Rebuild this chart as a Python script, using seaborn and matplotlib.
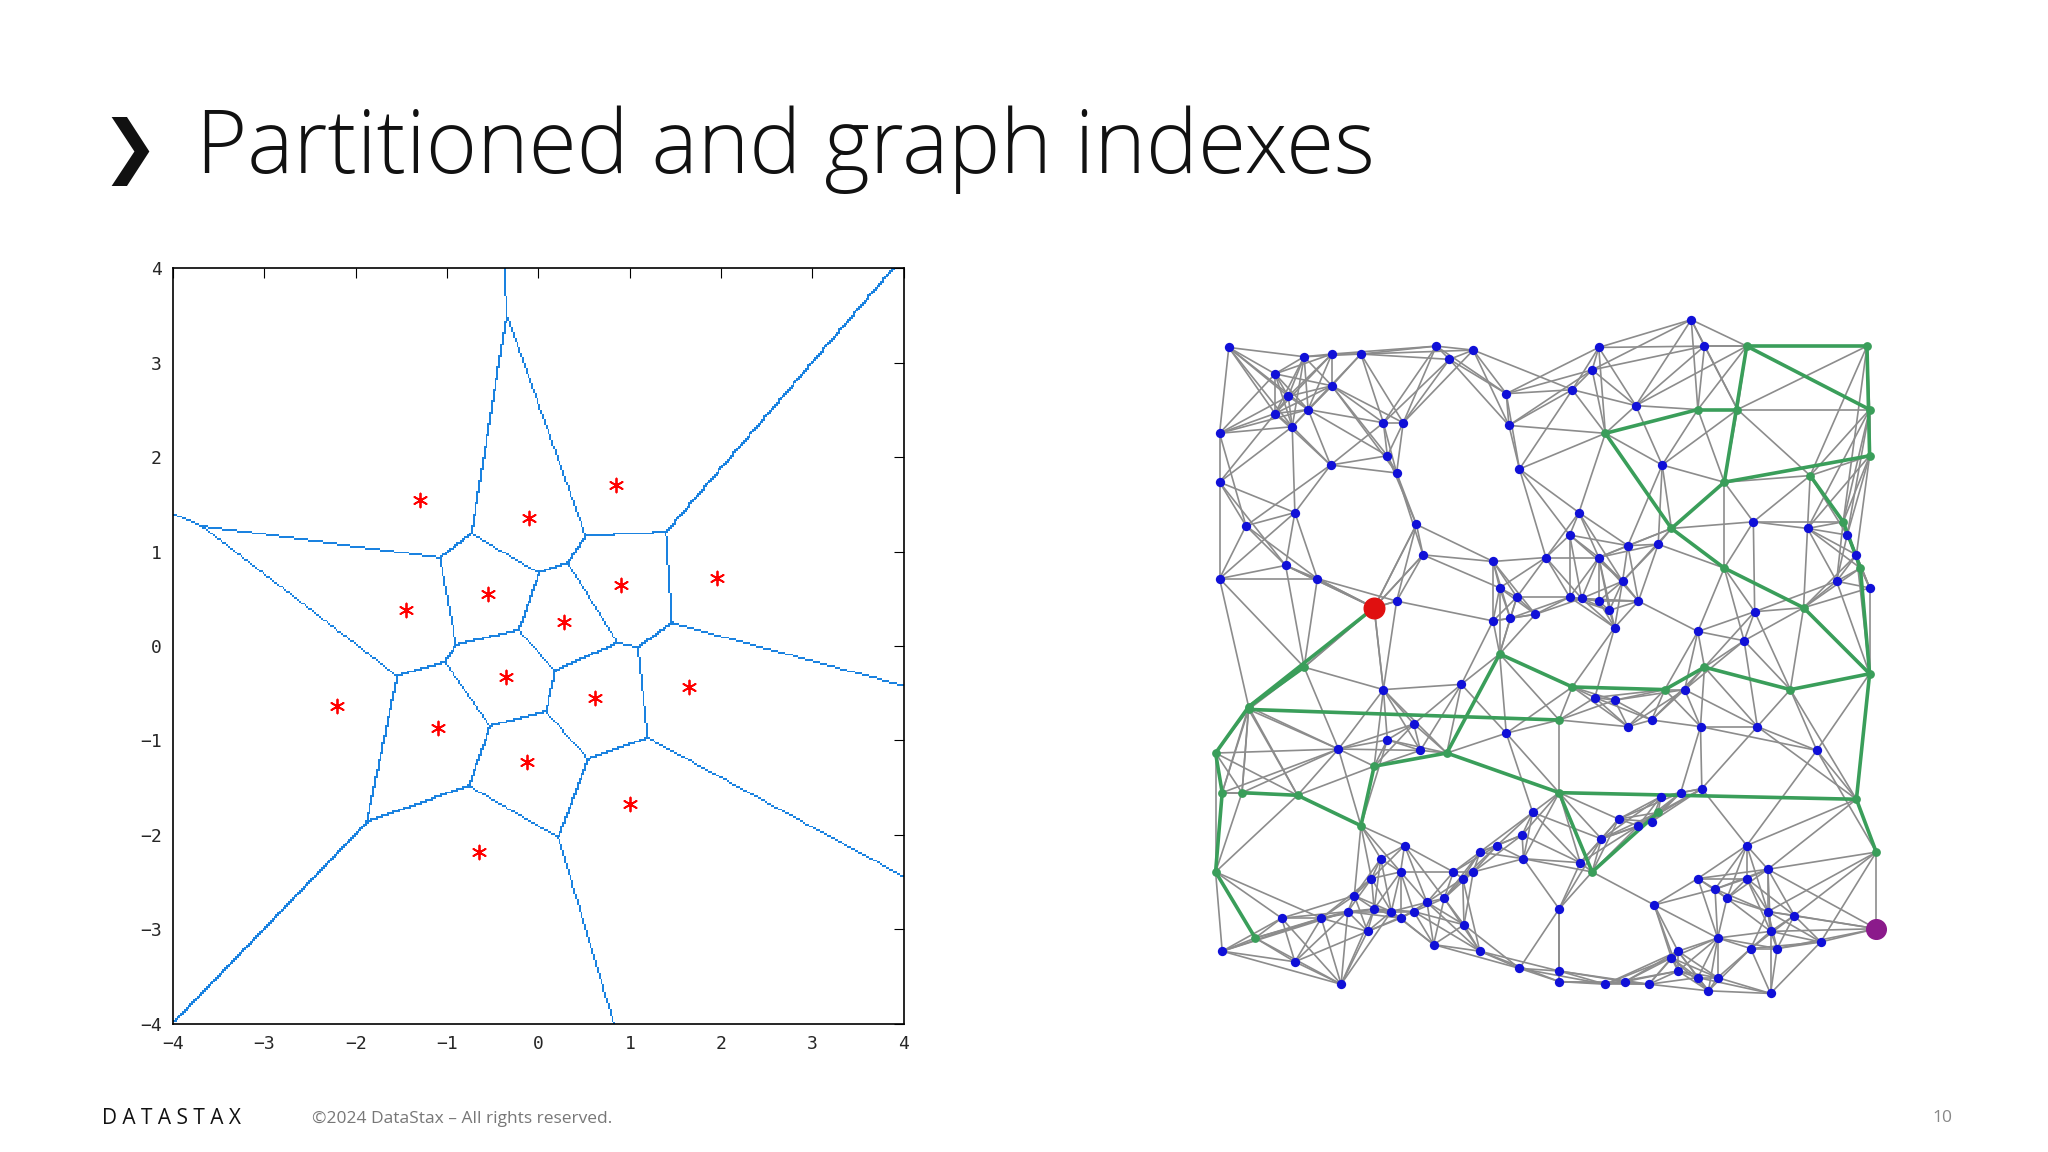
"""
Slide: partitioned (Voronoi) and graph indexes.
"""
import matplotlib

matplotlib.use("Agg")

import matplotlib.pyplot as plt
import numpy as np
import pandas as pd
import seaborn as sns
from matplotlib.colors import ListedColormap

# Voronoi sites (data coordinates)
SITE_X = [-1.3, -0.1, 0.85, -1.45, -0.55, 0.9, 1.95, 0.28, -2.2, -0.35, 0.62, 1.65, -1.1, -0.12, 1.0, -0.65]
SITE_Y = [1.55, 1.35, 1.7, 0.38, 0.55, 0.65, 0.72, 0.25, -0.63, -0.33, -0.55, -0.43, -0.87, -1.23, -1.67, -2.18]
TICKS = [-4, -3, -2, -1, 0, 1, 2, 3, 4]

# Graph nodes (slide pixel coordinates)
BLUE_NODES = [
    (930, 263), (965, 283), (987, 270), (1008, 268), (1030, 268), (1087, 262), (1097, 272), (1115, 265),
    (1210, 263), (1280, 242), (1290, 262), (1205, 280), (1190, 295), (1140, 298), (1008, 292), (975, 300),
    (965, 313), (990, 310), (923, 328), (978, 323), (1047, 320), (1062, 320), (1142, 322), (1238, 307),
    (1258, 352), (1150, 355), (1007, 352), (1050, 345), (1057, 358), (923, 365), (980, 388), (943, 398),
    (1072, 397), (1195, 388), (1188, 405), (1170, 422), (1210, 422), (1232, 413), (1255, 412), (1327, 395),
    (1368, 400), (1398, 405), (1405, 420), (923, 438), (973, 428), (997, 438), (1077, 420), (1130, 425),
    (1135, 445), (1148, 452), (1162, 465), (1188, 452), (1197, 453), (1210, 455), (1218, 462), (1228, 440),
    (1240, 455), (1130, 470), (1143, 468), (1057, 455), (1222, 475), (1328, 463), (1285, 478), (1320, 485),
    (1415, 445), (1390, 440), (1106, 518), (1047, 522), (1207, 528), (1222, 530), (1275, 522),
    (1250, 545), (1232, 550), (1287, 550), (1330, 550), (1375, 568), (1013, 567), (1050, 560), (1075, 568),
    (1070, 548), (1140, 555), (1257, 603), (1272, 600), (1288, 597), (1212, 635), (1225, 620),
    (1240, 625), (1250, 622), (1160, 615), (1152, 632), (1120, 645), (1133, 640), (1100, 660), (1063, 640),
    (1045, 650), (1038, 665), (1025, 678), (1020, 690), (1040, 688), (1053, 690), (1060, 695), (1070, 690),
    (1080, 683), (1093, 680), (1107, 665), (1115, 660), (1000, 695), (970, 695), (1035, 705), (1085, 715),
    (1108, 700), (1120, 720), (1150, 733), (1180, 688), (1180, 735), (1180, 743), (1215, 745), (1230, 743),
    (1248, 745), (1265, 725), (1270, 735), (1285, 740), (1293, 750), (1252, 685), (1285, 665), (1298, 673),
    (1307, 680), (1322, 665), (1338, 658), (1322, 640), (1338, 690), (1340, 705), (1345, 718), (1325, 718),
    (1358, 693), (1378, 713), (1340, 752), (1270, 720), (1300, 710), (1300, 740), (925, 720), (980, 728),
    (1015, 745), (1060, 660), (1153, 650), (1196, 653),
]
GREEN_EDGES = [
    ((1040, 460), (945, 535)), ((945, 535), (987, 505)), ((945, 537), (1180, 545)),
    ((945, 535), (920, 570)), ((920, 570), (925, 600)), ((925, 600), (920, 660)), ((920, 660), (950, 710)),
    ((940, 600), (982, 602)), ((982, 602), (1030, 625)), ((1030, 625), (1040, 580)), ((1040, 580), (1095, 570)),
    ((1095, 570), (1180, 600)), ((1180, 600), (1205, 660)), ((1205, 660), (1255, 615)),
    ((1095, 570), (1135, 495)), ((1135, 495), (1190, 520)), ((1190, 520), (1260, 522)),
    ((1260, 522), (1290, 505)), ((1290, 505), (1355, 522)), ((1355, 522), (1415, 510)),
    ((1180, 600), (1405, 605)), ((1405, 605), (1420, 645)), ((1405, 605), (1415, 510)),
    ((1415, 510), (1408, 430)), ((1408, 430), (1395, 395)), ((1395, 395), (1370, 360)),
    ((1415, 345), (1413, 262)), ((1413, 262), (1322, 262)), ((1322, 262), (1305, 365)),
    ((1305, 365), (1265, 400)), ((1265, 400), (1215, 328)), ((1215, 328), (1285, 310)),
    ((1285, 310), (1315, 310)), ((1322, 262), (1415, 310)), ((1305, 365), (1415, 345)),
    ((1365, 460), (1415, 510)), ((1305, 430), (1365, 460)), ((1305, 430), (1265, 400)),
]
START_NODE = (1040, 460)
END_NODE = (1420, 703)
K_NEIGHBOURS = 7

SLIDE_W, SLIDE_H = 1550, 872


def frac(x0, y0, x1, y1):
    return [x0 / SLIDE_W, 1 - y1 / SLIDE_H, (x1 - x0) / SLIDE_W, (y1 - y0) / SLIDE_H]


def draw_voronoi(ax):
    sites = np.column_stack([SITE_X, SITE_Y])
    grid = np.linspace(-4, 4, 400)
    gx, gy = np.meshgrid(grid, grid)
    d = (gx[..., None] - sites[:, 0]) ** 2 + (gy[..., None] - sites[:, 1]) ** 2
    lab = d.argmin(axis=2)
    edge = np.zeros_like(lab, dtype=bool)
    edge[:, 1:] |= lab[:, 1:] != lab[:, :-1]
    edge[1:, :] |= lab[1:, :] != lab[:-1, :]
    cmap = ListedColormap([(1, 1, 1, 0), "#1a82e0"])
    ax.imshow(edge.astype(int), extent=(-4, 4, -4, 4), origin="lower", cmap=cmap,
              interpolation="nearest", aspect="auto")
    sns.scatterplot(x=SITE_X, y=SITE_Y, ax=ax, marker=(6, 2, 0), s=100, color="red",
                    linewidth=1.3, edgecolor="red")
    ax.set_xlim(-4, 4)
    ax.set_ylim(-4, 4)
    ax.set_xticks(TICKS)
    ax.set_yticks(TICKS)
    labels = [str(t).replace("-", "\u2212") for t in TICKS]
    ax.set_xticklabels(labels, family="DejaVu Sans Mono", fontsize=13)
    ax.set_yticklabels(labels, family="DejaVu Sans Mono", fontsize=13)
    ax.tick_params(direction="in", length=7, top=True, right=True, color="black", pad=8)
    for s in ax.spines.values():
        s.set_visible(True)
        s.set_color("black")
        s.set_linewidth(1.2)


def draw_graph(ax):
    green_pts = sorted({p for e in GREEN_EDGES for p in e})
    nodes = np.array(BLUE_NODES + green_pts + [START_NODE, END_NODE], dtype=float)
    dist = np.hypot(nodes[:, None, 0] - nodes[None, :, 0], nodes[:, None, 1] - nodes[None, :, 1])
    order = np.argsort(dist, axis=1)[:, 1:K_NEIGHBOURS + 1]
    edges = {tuple(sorted((i, j))) for i in range(len(nodes)) for j in order[i]}
    for i, j in edges:
        ax.plot(nodes[[i, j], 0], nodes[[i, j], 1], color="#8c8c8c", lw=1.2, zorder=1)
    for a, b in GREEN_EDGES:
        ax.plot([a[0], b[0]], [a[1], b[1]], color="#3a9e5a", lw=2.6, zorder=2)
    blue = pd.DataFrame(BLUE_NODES, columns=["x", "y"])
    green = pd.DataFrame(green_pts, columns=["x", "y"])
    sns.scatterplot(data=blue, x="x", y="y", ax=ax, color="#1010d8", s=45, linewidth=0, zorder=3)
    sns.scatterplot(data=green, x="x", y="y", ax=ax, color="#3a9e5a", s=40, linewidth=0, zorder=3)
    ax.scatter(*START_NODE, color="#e01010", s=220, zorder=4)
    ax.scatter(*END_NODE, color="#8b1a8b", s=200, zorder=4)
    ax.set_xlim(900, 1440)
    ax.set_ylim(770, 230)
    ax.axis("off")


def main():
    sns.set_style("white")
    plt.rcParams["font.family"] = ["Open Sans", "DejaVu Sans"]
    fig = plt.figure(figsize=(20.48, 11.52), dpi=100)
    fig.text(76 / SLIDE_W, 1 - 115 / SLIDE_H, "\u276F", fontsize=50, va="center",
             family="DejaVu Sans", weight="bold", color="#111111")
    fig.text(148 / SLIDE_W, 1 - 113 / SLIDE_H, "Partitioned and graph indexes", fontsize=63,
             va="center", weight="light", color="#111111")
    ax1 = fig.add_axes(frac(131, 203, 684, 775))
    draw_voronoi(ax1)
    ax2 = fig.add_axes(frac(900, 230, 1440, 770))
    draw_graph(ax2)
    fig.text(77 / SLIDE_W, 1 - 847 / SLIDE_H, "D A T A S T A X", fontsize=15, va="center",
             color="#111111")
    fig.text(236 / SLIDE_W, 1 - 847 / SLIDE_H, "\u00a92024 DataStax \u2013 All rights reserved.",
             fontsize=12.5, va="center", color="#777777")
    fig.text(1478 / SLIDE_W, 1 - 846 / SLIDE_H, "10", fontsize=12.5, va="center", ha="right",
             color="#888888")
    fig.savefig("out.png", dpi=100, facecolor="white")
    plt.close(fig)


if __name__ == "__main__":
    main()
